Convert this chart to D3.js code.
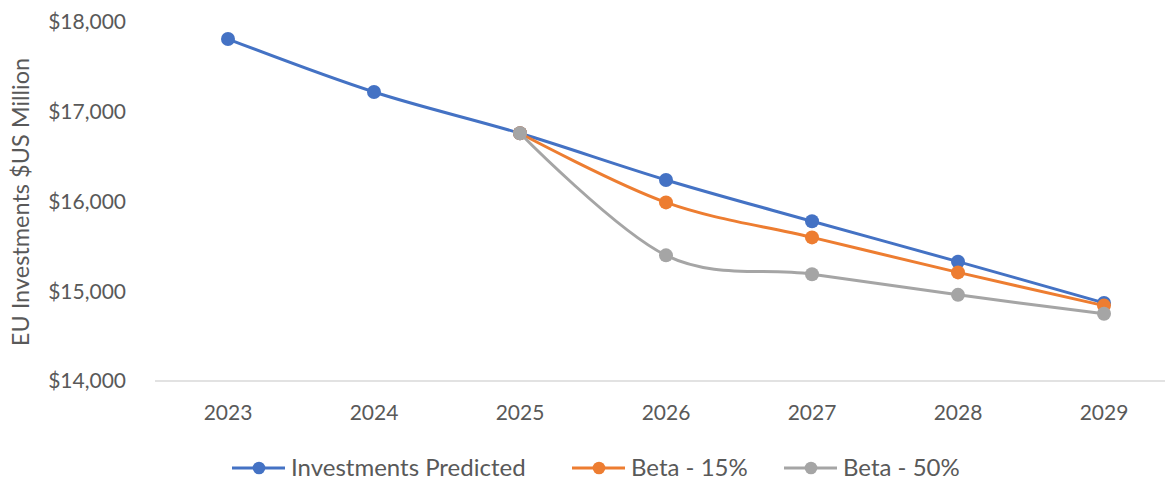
<!DOCTYPE html>
<html>
<head>
<meta charset="utf-8">
<script src="https://cdn.jsdelivr.net/npm/d3@7"></script>
<style>
  html, body { margin: 0; padding: 0; background: #fff; }
  svg { display: block; font-family: Lato, "Open Sans", sans-serif; }
</style>
</head>
<body>
<svg id="chart" width="1165" height="480"></svg>
<script>
// Projected EU investment, $US million
const years = ["2023", "2024", "2025", "2026", "2027", "2028", "2029"];
const investmentsPredicted = [17810, 17220, 16760, 16240, 15780, 15330, 14870];
const beta15 = [null, null, 16760, 15990, 15600, 15210, 14840];
const beta50 = [null, null, 16760, 15400, 15190, 14960, 14750];
const yTicks = [14000, 15000, 16000, 17000, 18000];
const seriesNames = ["Investments Predicted", "Beta - 15%", "Beta - 50%"];
const seriesColors = ["#4472C4", "#ED7D31", "#A5A5A5"];

const svg = d3.select("#chart");
const textColor = "#595959";

const x = d3.scaleBand().domain(years).range([155, 1177]);
const y = d3.scaleLinear().domain([14000, 18000]).range([381, 22]);

// baseline
svg.append("line")
  .attr("x1", 155).attr("x2", 1165)
  .attr("y1", y(14000)).attr("y2", y(14000))
  .attr("stroke", "#D9D9D9").attr("stroke-width", 1.5);

// y tick labels
const fmt = v => "$" + d3.format(",")(v);
svg.append("g").selectAll("text").data(yTicks).join("text")
  .attr("x", 126).attr("y", d => y(d))
  .attr("dy", "0.35em")
  .attr("text-anchor", "end")
  .attr("fill", textColor)
  .attr("font-size", 21)
  .text(fmt);

// x tick labels
svg.append("g").selectAll("text").data(years).join("text")
  .attr("x", d => x(d) + x.bandwidth() / 2).attr("y", 420)
  .attr("text-anchor", "middle")
  .attr("fill", textColor)
  .attr("font-size", 21)
  .text(d => d);

// y axis title
svg.append("text")
  .attr("transform", "translate(29,202) rotate(-90)")
  .attr("text-anchor", "middle")
  .attr("fill", textColor)
  .attr("font-size", 23.5)
  .text("EU Investments $US Million");

// series
const series = [investmentsPredicted, beta15, beta50].map((vals, i) => ({
  name: seriesNames[i],
  color: seriesColors[i],
  points: years.map((yr, j) => ({ yr, v: vals[j] })).filter(p => p.v != null)
}));

const line = d3.line()
  .x(p => x(p.yr) + x.bandwidth() / 2)
  .y(p => y(p.v))
  .curve(d3.curveCatmullRom.alpha(0));

series.forEach(s => {
  const g = svg.append("g");
  g.append("path")
    .datum(s.points)
    .attr("d", line)
    .attr("fill", "none")
    .attr("stroke", s.color)
    .attr("stroke-width", 3)
    .attr("stroke-linecap", "round");
  g.selectAll("circle").data(s.points).join("circle")
    .attr("cx", p => x(p.yr) + x.bandwidth() / 2)
    .attr("cy", p => y(p.v))
    .attr("r", 7)
    .attr("fill", s.color);
});

// legend
const legendX = [232, 572, 784];
const legend = svg.append("g");
series.forEach((s, i) => {
  const lx = legendX[i];
  const ly = 468;
  legend.append("line")
    .attr("x1", lx).attr("x2", lx + 53)
    .attr("y1", ly).attr("y2", ly)
    .attr("stroke", s.color).attr("stroke-width", 3);
  legend.append("circle")
    .attr("cx", lx + 27).attr("cy", ly).attr("r", 6.3)
    .attr("fill", s.color);
  legend.append("text")
    .attr("x", lx + 59).attr("y", ly)
    .attr("dy", "0.35em")
    .attr("fill", textColor)
    .attr("font-size", 24)
    .text(s.name);
});
</script>
</body>
</html>
